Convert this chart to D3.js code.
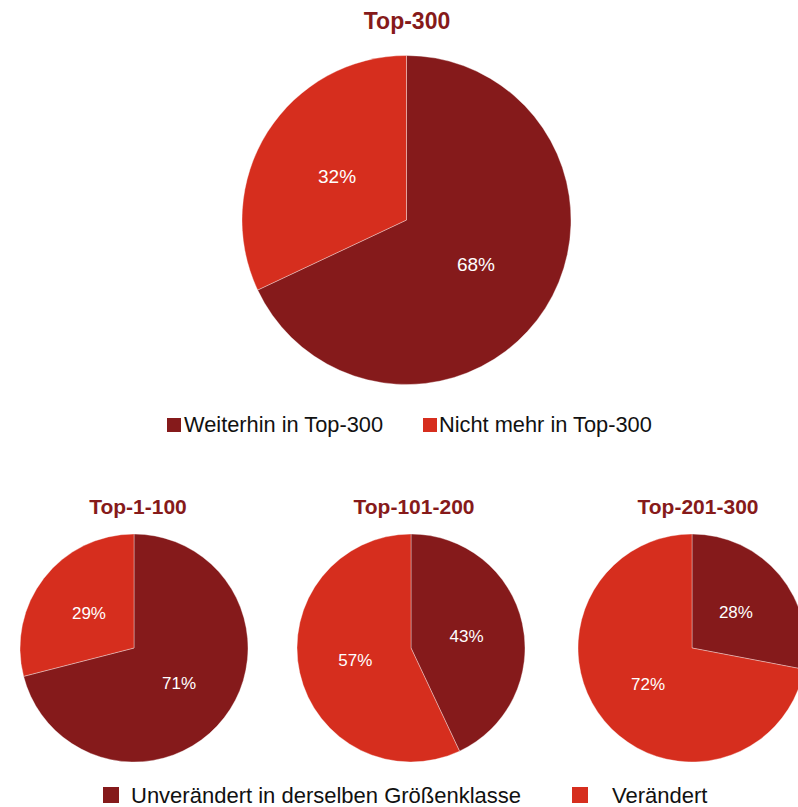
<!DOCTYPE html>
<html>
<head>
<meta charset="utf-8">
<script src="https://cdn.jsdelivr.net/npm/d3@7.9.0/dist/d3.min.js"></script>
<style>
  body { margin: 0; background: #fff; }
  svg { display: block; font-family: "Liberation Sans", Arial, sans-serif; }
</style>
</head>
<body>
<svg id="chart"></svg>
<script>
// data
const topTitle = "Top-300";
const topCats = ["Weiterhin in Top-300", "Nicht mehr in Top-300"];
const topValues = [68, 32];

const groupTitles = ["Top-1-100", "Top-101-200", "Top-201-300"];
const bottomCats = ["Unverändert in derselben Größenklasse", "Verändert"];
const unchanged = [71, 43, 28];
const changed = [29, 57, 72];

const width = 798, height = 807;
const colors = ["#851a1b", "#d62e1e"];
const titleColor = "#861a1a";

const svg = d3.select("#chart")
  .attr("width", width)
  .attr("height", height);

const pie = d3.pie().sort(null).value(d => d);

function drawPie(values, cx, cy, r, fontSize) {
  const g = svg.append("g").attr("transform", `translate(${cx},${cy})`);
  const arc = d3.arc().innerRadius(0).outerRadius(r);
  const arcs = pie(values);

  g.selectAll("path")
    .data(arcs)
    .join("path")
    .attr("d", arc)
    .attr("fill", (d, i) => colors[i])
    .attr("stroke", "rgba(255,255,255,0.35)")
    .attr("stroke-width", 1);

  g.selectAll("text")
    .data(arcs)
    .join("text")
    .attr("transform", d => `translate(${arc.centroid(d)})`)
    .attr("text-anchor", "middle")
    .attr("dy", "0.35em")
    .attr("fill", "#fff")
    .attr("font-size", fontSize)
    .text(d => d.data + "%");
}

function drawLegend(cats, items, y, size, fontSize) {
  const g = svg.append("g");
  items.forEach((it, i) => {
    g.append("rect")
      .attr("x", it.sx).attr("y", y - size)
      .attr("width", size).attr("height", size)
      .attr("fill", colors[i]);
    g.append("text")
      .attr("x", it.tx).attr("y", y)
      .attr("font-size", fontSize)
      .attr("fill", "#111")
      .text(cats[i]);
  });
}

// top pie
svg.append("text")
  .attr("x", 407).attr("y", 29)
  .attr("text-anchor", "middle")
  .attr("font-size", 23).attr("font-weight", "bold")
  .attr("fill", titleColor)
  .text(topTitle);

drawPie(topValues, 406.5, 220, 164.5, 19);
drawLegend(topCats, [{ sx: 167, tx: 184 }, { sx: 423, tx: 439 }], 432, 14, 21.8);

// bottom pies
const pieX = [134, 411, 692];
const titleX = [138, 414, 698];

groupTitles.forEach((t, i) => {
  svg.append("text")
    .attr("x", titleX[i]).attr("y", 514)
    .attr("text-anchor", "middle")
    .attr("font-size", 21).attr("font-weight", "bold")
    .attr("fill", titleColor)
    .text(t);
  drawPie([unchanged[i], changed[i]], pieX[i], 648, 114, 17);
});

drawLegend(bottomCats, [{ sx: 103, tx: 131 }, { sx: 572, tx: 612 }], 803, 16, 22);
</script>
</body>
</html>
